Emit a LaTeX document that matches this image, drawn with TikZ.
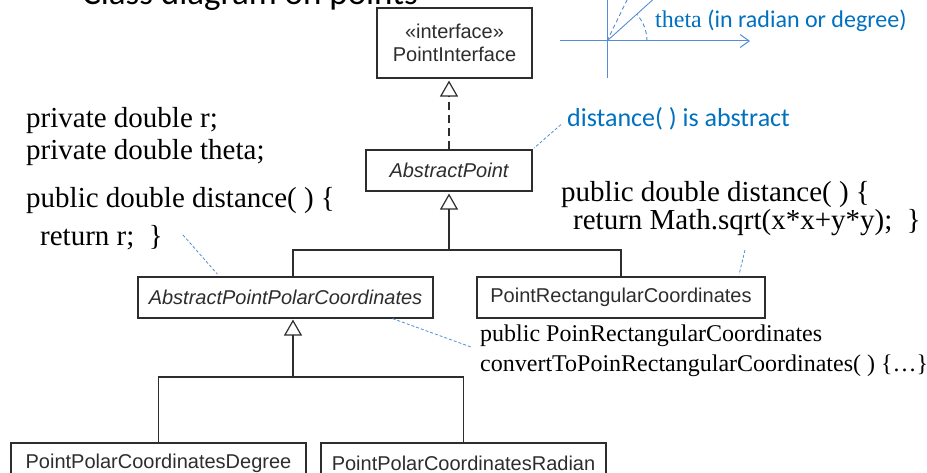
\documentclass[tikz,border=0pt]{standalone}
\usepackage{fontspec}
\setmainfont{Liberation Serif}
\newfontfamily\umlfont{Liberation Sans}
\newfontfamily\slidefont{Carlito}
\usetikzlibrary{arrows.meta, calc}
\definecolor{umlline}{RGB}{45, 45, 45}
\definecolor{notetext}{RGB}{0, 112, 192}
\definecolor{noteline}{RGB}{84, 141, 212}

\tikzset{
  umlbox/.style={draw=umlline, line width=1.2pt, inner sep=0pt, text=umlline,
                 font=\umlfont\fontsize{20}{23}\selectfont, align=center},
  tree/.style={draw=umlline, line width=1.2pt},
  inherit/.style={tree, -{Triangle[open, length=16pt, width=18pt]}},
  realize/.style={inherit, dash pattern=on 8pt off 5pt},
  code/.style={inner sep=0pt, anchor=base west, align=left},
  note/.style={noteline, line width=0.8pt, dash pattern=on 3pt off 2pt},
  notetxt/.style={inner sep=0pt, anchor=base west, text=notetext},
}

\begin{document}
\begin{tikzpicture}[x=1pt, y=-1pt]
  \clip (0, 0) rectangle (927, 473);

  % slide title, cut by the top edge
  \node[inner sep=0pt, anchor=base west, font=\slidefont\fontsize{35}{40}\selectfont] (title)
    at (82, 5) {Class diagram on points};

  % classes
  \node[umlbox, minimum width=155pt, minimum height=70pt] (pi) at (454.5, 43)
    {«interface»\\PointInterface};
  \node[umlbox, minimum width=166pt, minimum height=41pt] (ap) at (449, 170.5)
    {\itshape AbstractPoint};
  \node[umlbox, minimum width=295pt, minimum height=41pt] (appc) at (285.5, 297.5)
    {\itshape AbstractPointPolarCoordinates};
  \node[umlbox, minimum width=288pt, minimum height=41pt] (prc) at (621, 297.5)
    {PointRectangularCoordinates};
  \node[umlbox, minimum width=295pt, minimum height=41pt] (ppd) at (158.5, 463.5)
    {PointPolarCoordinatesDegree};
  \node[umlbox, minimum width=285pt, minimum height=41pt] (ppr) at (463.5, 463.5)
    {PointPolarCoordinatesRadian};

  % realization and generalization
  \coordinate (j1) at (449, 250);
  \coordinate (j2) at (293, 377);
  \draw[realize, shorten >=2pt] (ap.north) -- (ap.north |- pi.south);
  \draw[inherit, shorten >=2pt] (j1) -- (ap.south);
  \draw[tree] (appc.north -| j2) |- (j1) -| (prc.north);
  \draw[inherit, shorten >=1pt] (j2) -- (j2 |- appc.south);
  \draw[tree] (ppd.north) |- (j2) -| (ppr.north);

  % polar axes
  \draw[noteline, line width=1pt] (607, -20) -- (607, 78);
  \draw[noteline, line width=1pt, -{Straight Barb[length=9pt, width=13pt]}] (560, 41) -- (750, 41);
  \draw[noteline, line width=0.9pt] (607, 41) -- ++(-42:75);
  \draw[noteline, line width=0.9pt, dash pattern=on 4pt off 3pt] (607, 41) -- ++(-64:60);
  \draw[noteline, line width=0.9pt, dash pattern=on 4pt off 3pt] (647, 41)
    arc[start angle=0, end angle=-42, radius=40];

  % code notes (anchored at the baseline of their last line)
  \node[code, font=\fontsize{29}{32}\selectfont] (polfields) at (26, 160)
    {private double r;\\private double theta;};
  \node[code, font=\fontsize{29}{32}\selectfont] (poldist) at (26, 246)
    {public double distance( ) \{\\[6pt]\hspace*{14pt}return r;\ \ \}};
  \node[code, font=\fontsize{29}{28}\selectfont] (recdist) at (561, 230)
    {public double distance( ) \{\\\hspace*{12pt}return Math.sqrt(x*x+y*y);\ \ \}};
  \node[code, font=\fontsize{24}{30}\selectfont] (convnote) at (480, 371)
    {public PoinRectangularCoordinates\\convertToPoinRectangularCoordinates( ) \{…\}};

  % blue remarks
  \node[notetxt, font=\slidefont\fontsize{26}{30}\selectfont] (absnote) at (567, 127)
    {distance( ) is abstract};
  \node[notetxt, font=\slidefont\fontsize{24}{28}\selectfont] (thetanote) at (655, 28)
    {{\rmfamily theta} (in radian or degree)};

  \coordinate (retend) at (183, 235);
  \coordinate (sqrtend) at (745, 250);
  \draw[note, shorten <=8pt, shorten >=2pt] (absnote.west) -- (ap.north east);
  \draw[note, shorten >=3pt] (retend) -- ([xshift=82pt]appc.north west);
  \draw[note, shorten >=2pt] (sqrtend) -- ([xshift=-27pt]prc.north east);
  \draw[note, shorten >=8pt] ([xshift=-41pt]appc.south east) -- (convnote.west);
\end{tikzpicture}
\end{document}
